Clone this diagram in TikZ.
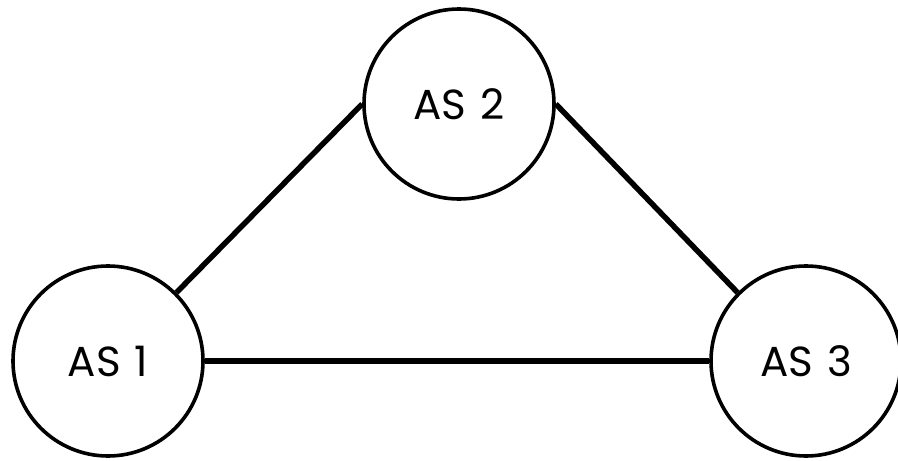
\documentclass[tikz,border=0pt]{standalone}
\usepackage{fontspec}
\setmainfont{Poppins}
\begin{document}
\begin{tikzpicture}[x=1pt,y=-1pt,
  asnode/.style={circle,draw=black,line width=3.6pt,minimum size=190pt,inner sep=0pt,fill=white,font=\fontsize{42}{46}\selectfont},
  link/.style={line width=5.5pt,black}]
\useasboundingbox (0,0) rectangle (898,461);
\node[asnode] (as1) at (108,361) {AS\hspace{3pt} 1};
\node[asnode] (as2) at (459,104) {AS\hspace{3pt} 2};
\node[asnode] (as3) at (806,361) {AS\hspace{3pt} 3};
\draw[link] (as1.45) -- (as2.west);
\draw[link] (as2.east) -- (as3.135);
\draw[link] (as1.east) -- (as3.west);
\end{tikzpicture}
\end{document}
